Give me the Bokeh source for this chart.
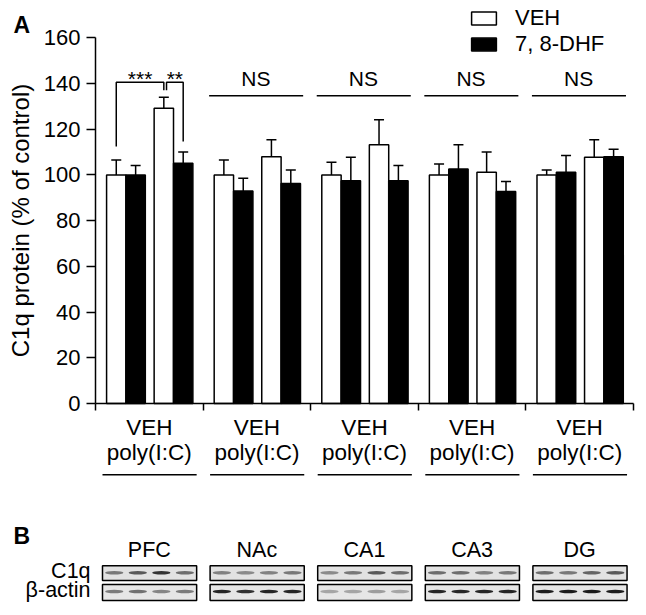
from bokeh.plotting import figure
from bokeh.models import (Range1d, FixedTicker, Whisker, TeeHead, ColumnDataSource,
                          Legend, LegendItem)
from bokeh.core.properties import value
from bokeh.embed import file_html
from bokeh.resources import INLINE

# ---------------- data ----------------
regions = ["PFC", "NAc", "CA1", "CA3", "DG"]
prenatal = ["VEH", "poly(I:C)"]
treatments = ["VEH", "7, 8-DHF"]

veh_veh = [100, 100, 100, 100, 100]
veh_dhf = [100, 93, 97.5, 102.6, 101.2]
poly_veh = [129.2, 108, 113.2, 101.2, 107.7]
poly_dhf = [105.1, 96.3, 97.5, 92.7, 108]

veh_veh_sem = [6.5, 6.5, 5.6, 4.8, 2.2]
veh_dhf_sem = [4.1, 5.5, 10.2, 10.6, 7.3]
poly_veh_sem = [4.8, 7.4, 10.9, 8.8, 7.7]
poly_dhf_sem = [4.9, 5.9, 6.6, 4.4, 3.2]

y_ticks = [0, 20, 40, 60, 80, 100, 120, 140, 160]
pfc_sig = ["***", "**"]
ns_text = "NS"
panel_letters = ["A", "B"]
blot_rows = ["C1q", "\u03b2-actin"]

# Western blot band intensities (0..1), 4 lanes per region
c1q_bands = [[0.55, 0.7, 0.9, 0.6],
             [0.5, 0.45, 0.5, 0.55],
             [0.45, 0.55, 0.7, 0.6],
             [0.6, 0.6, 0.5, 0.55],
             [0.6, 0.55, 0.65, 0.7]]
actin_bands = [[0.5, 0.55, 0.45, 0.5],
               [0.9, 0.85, 0.9, 0.9],
               [0.3, 0.3, 0.35, 0.3],
               [0.9, 0.9, 0.9, 0.9],
               [0.95, 0.95, 0.95, 0.95]]

FONT = value("Liberation Sans")

# ---------------- figure ----------------
p = figure(frame_width=640, frame_height=612, output_backend="svg",
           toolbar_location=None, title=None,
           x_range=Range1d(-0.8829, 5.065), y_range=Range1d(-91.4, 176.3),
           min_border=0, outline_line_color=None)
p.xgrid.visible = False
p.ygrid.visible = False
p.background_fill_color = "white"

# y axis (fixed at x = 0)
yax = p.yaxis[0]
yax.fixed_location = 0
yax.bounds = (0, 160)
yax.ticker = FixedTicker(ticks=y_ticks)
yax.minor_tick_line_color = None
yax.major_tick_out = 9
yax.major_tick_in = 0
yax.major_tick_line_width = 1.5
yax.axis_line_width = 1.5
yax.major_label_text_font = "Liberation Sans"
yax.major_label_text_font_size = "22px"
yax.major_label_text_color = "black"
yax.major_label_standoff = 6
yax.axis_label = "C1q protein (% of control)"
yax.axis_label_text_font = "Liberation Sans"
yax.axis_label_text_font_size = "24px"
yax.axis_label_text_font_style = "normal"
yax.axis_label_text_color = "black"
yax.axis_label_standoff = 7

# x axis at y = 0
xax = p.xaxis[0]
xax.fixed_location = 0
xax.bounds = (0, 5)
xax.ticker = FixedTicker(ticks=list(range(len(regions) + 1)))
xax.minor_tick_line_color = None
xax.major_tick_out = 7
xax.major_tick_in = 0
xax.major_tick_line_width = 1.5
xax.axis_line_width = 1.5
xax.major_label_overrides = {i: "" for i in range(len(regions) + 1)}
xax.major_label_standoff = 0

# ---------------- bars ----------------
offsets = [0.193, 0.373, 0.635, 0.815]
bw = 0.18
wx, wtop, wsem = [], [], []
bx, btop, bsem = [], [], []
for g in range(len(regions)):
    wx += [g + offsets[0], g + offsets[2]]
    wtop += [veh_veh[g], poly_veh[g]]
    wsem += [veh_veh_sem[g], poly_veh_sem[g]]
    bx += [g + offsets[1], g + offsets[3]]
    btop += [veh_dhf[g], poly_dhf[g]]
    bsem += [veh_dhf_sem[g], poly_dhf_sem[g]]

src_w = ColumnDataSource(dict(x=wx, top=wtop, upper=[t + s for t, s in zip(wtop, wsem)]))
src_b = ColumnDataSource(dict(x=bx, top=btop, upper=[t + s for t, s in zip(btop, bsem)]))

for src in (src_w, src_b):
    w = Whisker(source=src, base="x", lower="top", upper="upper",
                line_width=1.5, line_color="black", lower_head=None,
                upper_head=TeeHead(size=10, line_width=1.5, line_color="black"))
    p.add_layout(w)

r_w = p.vbar(x="x", top="top", width=bw, source=src_w, fill_color="white",
             line_color="black", line_width=1.5)
r_b = p.vbar(x="x", top="top", width=bw, source=src_b, fill_color="black",
             line_color="black", line_width=1.5)

legend = Legend(items=[LegendItem(label=treatments[0], renderers=[r_w]),
                       LegendItem(label=treatments[1], renderers=[r_b])],
                location=(468, 555), padding=0, margin=0, spacing=0,
                glyph_width=31, glyph_height=16, label_standoff=16,
                label_text_font="Liberation Sans", label_text_font_size="22px",
                label_text_color="black",
                border_line_alpha=0, background_fill_alpha=0)
p.add_layout(legend)

# ---------------- significance ----------------
x0, x2 = offsets[0], offsets[2]
xb2a, xb2b = 0.66, offsets[3]
p.multi_line(xs=[[x0, x0, x2, x2], [xb2a, xb2a, xb2b, xb2b]],
             ys=[[112.4, 140.5, 140.5, 137], [137, 140.5, 140.5, 114.6]],
             line_color="black", line_width=1.5)
p.text(x=[(x0 + x2) / 2, (xb2a + xb2b) / 2], y=[142.3, 142.3], text=pfc_sig,
       text_font=FONT, text_font_size=value("21px"), text_align="center",
       text_baseline="alphabetic", text_color="black")

ns_groups = list(range(1, len(regions)))
p.segment(x0=[g + 0.056 for g in ns_groups], x1=[g + 0.93 for g in ns_groups],
          y0=[134.6] * len(ns_groups), y1=[134.6] * len(ns_groups),
          line_color="black", line_width=1.5)
p.text(x=[g + 0.49 for g in ns_groups], y=[142.0] * len(ns_groups),
       text=[ns_text] * len(ns_groups), text_font=FONT, text_font_size=value("21px"),
       text_align="center", text_baseline="alphabetic", text_color="black")

# ---------------- group labels below axis ----------------
gc = [g + 0.5 for g in range(len(regions))]
p.text(x=gc, y=[-10.5] * 5, text=[prenatal[0]] * 5, text_font=FONT,
       text_font_size=value("22.5px"), text_align="center", text_baseline="alphabetic",
       text_color="black")
p.text(x=gc, y=[-21.4] * 5, text=[prenatal[1]] * 5, text_font=FONT,
       text_font_size=value("22.5px"), text_align="center", text_baseline="alphabetic",
       text_color="black")
p.segment(x0=[g + 0.065 for g in range(5)], x1=[g + 0.94 for g in range(5)],
          y0=[-31.1] * 5, y1=[-31.1] * 5, line_color="black", line_width=1.5)

# ---------------- panel B: blots ----------------
p.text(x=gc, y=[-64.0] * 5, text=regions, text_font=FONT, text_font_size=value("21.5px"),
       text_align="center", text_baseline="alphabetic", text_color="black")
lefts = [g + 0.065 for g in range(5)]
rights = [g + 0.94 for g in range(5)]
p.quad(left=lefts, right=rights, top=[-70.9] * 5, bottom=[-77.4] * 5,
       fill_color="#e2e2e2", line_color="black", line_width=1.5)
p.quad(left=lefts, right=rights, top=[-79.2] * 5, bottom=[-86.2] * 5,
       fill_color="#e6e6e6", line_color="black", line_width=1.5)

lane_x, c_alpha, a_alpha = [], [], []
for g in range(5):
    lw = (rights[g] - lefts[g]) / 4
    for i in range(4):
        lane_x.append(lefts[g] + (i + 0.5) * lw)
        c_alpha.append(c1q_bands[g][i])
        a_alpha.append(actin_bands[g][i])
p.ellipse(x=lane_x, y=[-74.0] * 20, width=0.17, height=1.6, fill_color="#202020",
          fill_alpha=c_alpha, line_color=None)
p.ellipse(x=lane_x, y=[-82.2] * 20, width=0.17, height=1.6, fill_color="#101010",
          fill_alpha=a_alpha, line_color=None)

# ---------------- panel letters & row labels ----------------
p.text(x=[-0.762, -0.762], y=[165.5, -58.0], text=panel_letters, text_font=FONT,
       text_font_size=value("23px"), text_font_style="bold",
       text_baseline="alphabetic", text_color="black")
p.text(x=[-0.046, -0.046], y=[-73.2, -81.7], text=blot_rows, text_font=FONT,
       text_font_size=value("21.5px"), text_align="right", text_baseline="alphabetic",
       text_color="black")

open("out.html", "w").write(file_html(p, INLINE))
